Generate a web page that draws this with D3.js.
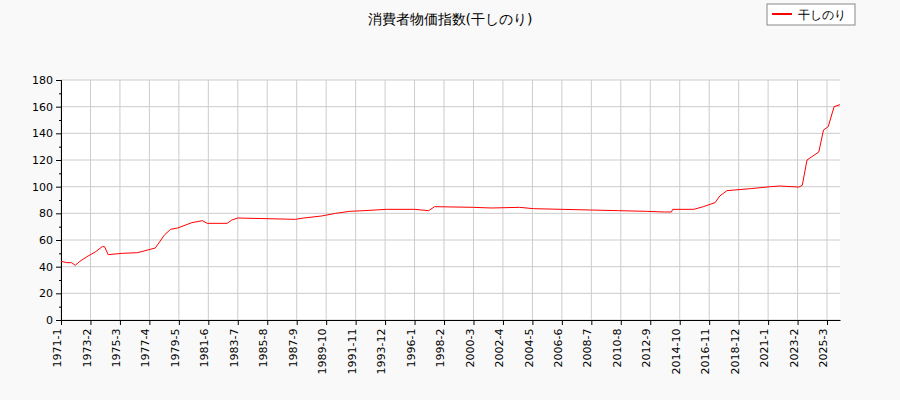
<!DOCTYPE html><html><head><meta charset="utf-8"><script src="https://d3js.org/d3.v7.min.js"></script>
<style>body{margin:0;background:#f9f9f9;font-family:"DejaVu Sans",sans-serif}</style></head><body><svg id="c" width="900" height="400"></svg>
<script>
const title="消費者物価指数(干しのり)";
const seriesName="干しのり";
const startYear=1971, nMonths=662;
const tickLabels=["1971-1","1973-2","1975-3","1977-4","1979-5","1981-6","1983-7","1985-8","1987-9","1989-10","1991-11","1993-12","1996-1","1998-2","2000-3","2002-4","2004-5","2006-6","2008-7","2010-8","2012-9","2014-10","2016-11","2018-12","2021-1","2023-2","2025-3"];
const yTicks=[0,20,40,60,80,100,120,140,160,180];
const pointDates=["1971-1","1971-6","1971-10","1972-1","1972-5","1972-12","1973-6","1973-12","1974-2","1974-5","1975-5","1976-6","1977-9","1978-5","1978-10","1979-4","1980-4","1981-1","1981-5","1982-10","1983-2","1983-7","1987-8","1988-3","1989-6","1990-6","1991-6","1992-6","1994-1","1996-1","1997-1","1997-6","2000-3","2001-6","2003-6","2004-6","2006-6","2008-6","2010-6","2012-6","2013-9","2014-3","2014-4","2015-10","2016-6","2017-4","2017-8","2018-2","2019-10","2021-3","2021-11","2023-3","2023-6","2023-10","2024-3","2024-8","2024-12","2025-4","2025-9","2026-2"];
const pointValues=[44,43,43,41,44,48,51,55,55,49,50,50.5,54,64,68,69,73,74.5,72.5,72.5,75,76.5,75.5,76.5,78,80,81.5,82,83,83,82,85,84.5,84,84.5,83.5,83,82.5,82,81.5,81,81,83,83,85,88,93,97,98.5,100,100.5,99.7,101,120,123,126,142.5,145,160,161.5];
const svg=d3.select("#c");
const m={l:61,r:840,t:80,b:320};
const idx=s=>{const [y,mo]=s.split("-").map(Number);return (y-startYear)*12+mo-1;};
const x=d3.scaleLinear().domain([0,nMonths-1]).range([m.l,m.r]);
const y=d3.scaleLinear().domain([0,180]).range([m.b,m.t]);
svg.append("rect").attr("x",m.l).attr("y",m.t).attr("width",m.r-m.l).attr("height",m.b-m.t).attr("fill","#fff");
const g=svg.append("g");
tickLabels.forEach(t=>g.append("line").attr("x1",x(idx(t))).attr("x2",x(idx(t))).attr("y1",m.t).attr("y2",m.b).attr("stroke","#ccc"));
yTicks.forEach(v=>g.append("line").attr("x1",m.l).attr("x2",m.r).attr("y1",y(v)).attr("y2",y(v)).attr("stroke","#ccc"));
const ya=d3.axisLeft(y).tickValues(yTicks).tickSize(5).tickSizeOuter(0);
svg.append("g").attr("transform",`translate(${m.l},0)`).call(ya).call(a=>a.selectAll("text").attr("font-size",11).attr("fill","#000").attr("font-family","DejaVu Sans"));
svg.append("g").attr("transform",`translate(${m.l},0)`).call(d3.axisLeft(y).tickValues(d3.range(10,180,20)).tickSize(2).tickFormat(""));
const xa=d3.axisBottom(x).tickValues(tickLabels.map(idx)).tickFormat((d,i)=>tickLabels[i]).tickSize(5).tickSizeOuter(0);
svg.append("g").attr("transform",`translate(0,${m.b})`).call(xa).call(a=>a.selectAll("text").attr("font-size",11).attr("fill","#000").attr("font-family","DejaVu Sans").attr("transform","rotate(-90)").attr("text-anchor","end").attr("dx","-0.6em").attr("dy","-0.4em").attr("x",-2).attr("y",4));
const data=pointDates.map((d,i)=>[idx(d),pointValues[i]]);
svg.append("path").datum(data).attr("fill","none").attr("stroke","red").attr("stroke-width",1).attr("d",d3.line().x(d=>x(d[0])).y(d=>y(d[1])));
svg.append("text").attr("x",450).attr("y",24).attr("text-anchor","middle").attr("font-size",14).text(title);
const lg=svg.append("g");
lg.append("rect").attr("x",767).attr("y",4).attr("width",88).attr("height",21).attr("fill","#fff").attr("stroke","#888");
lg.append("line").attr("x1",772).attr("x2",792).attr("y1",14).attr("y2",14).attr("stroke","red").attr("stroke-width",2);
lg.append("text").attr("x",798).attr("y",19).attr("font-size",12).text(seriesName);
</script></body></html>
